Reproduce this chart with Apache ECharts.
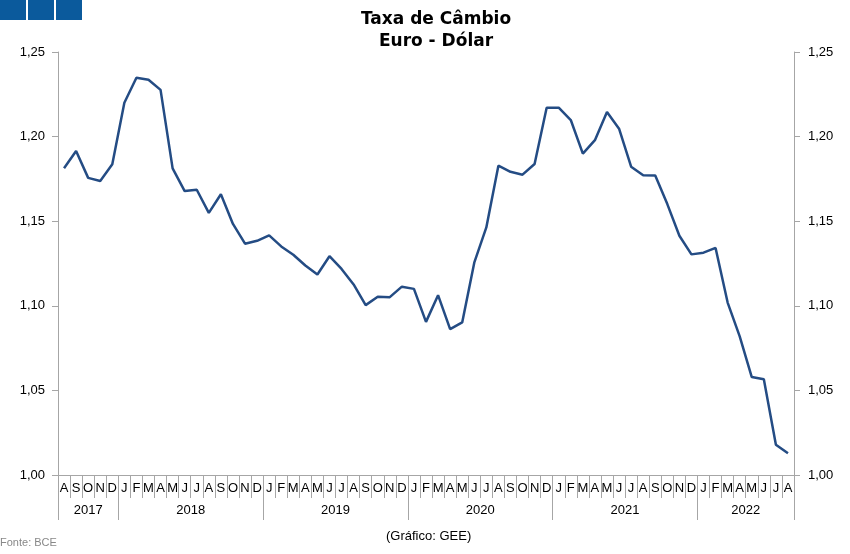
<!DOCTYPE html>
<html><head><meta charset="utf-8">
<script src="https://cdn.jsdelivr.net/npm/echarts@6/dist/echarts.min.js"></script>
<style>html,body{margin:0;padding:0;background:#fff}#c{width:850px;height:554px}</style>
</head><body><div id="c"></div>
<script>
const monthLetters = ['A','S','O','N','D',
 'J','F','M','A','M','J','J','A','S','O','N','D',
 'J','F','M','A','M','J','J','A','S','O','N','D',
 'J','F','M','A','M','J','J','A','S','O','N','D',
 'J','F','M','A','M','J','J','A','S','O','N','D',
 'J','F','M','A','M','J','J','A'];
const years = ['2017','2018','2019','2020','2021','2022'];
const yearStarts = [0,5,17,29,41,53,61];
const eurUsd = [1.1813,1.1915,1.1756,1.1738,1.1836,
 1.2200,1.2348,1.2336,1.2276,1.1812,1.1678,1.1686,1.1549,1.1659,1.1484,1.1367,1.1384,
 1.1416,1.1351,1.1302,1.1238,1.1185,1.1293,1.1218,1.1126,1.1004,1.1053,1.1051,1.1113,
 1.1100,1.0905,1.1063,1.0862,1.0902,1.1255,1.1463,1.1828,1.1792,1.1775,1.1838,1.2170,
 1.2171,1.2098,1.1899,1.1979,1.2146,1.2047,1.1822,1.1772,1.1770,1.1601,1.1414,1.1304,
 1.1314,1.1342,1.1019,1.0819,1.0579,1.0566,1.0179,1.0128];
const yTicks = [1.00,1.05,1.10,1.15,1.20,1.25];

const yearCenters = years.map((y,i)=> (yearStarts[i]+yearStarts[i+1])/2);
const fmt = v => v.toFixed(2).replace('.', ',');
const font = 'Liberation Sans, Arial, sans-serif';
const axisGray = '#a6a6a6';

const chart = echarts.init(document.getElementById('c'), null, {renderer:'canvas'});
chart.setOption({
  animation:false,
  textStyle:{fontFamily:font},
  title:{
    text:'Taxa de Câmbio\nEuro - Dólar', left:'center', top:4,
    textStyle:{fontFamily:'DejaVu Sans, sans-serif', fontSize:17, fontWeight:'bold', color:'#000', lineHeight:22, align:'center'},
    textAlign:'center', left:431
  },
  graphic:[
    {type:'rect', shape:{x:0,y:0,width:26,height:20}, style:{fill:'#0b5a9c'}},
    {type:'rect', shape:{x:28,y:0,width:26,height:20}, style:{fill:'#0b5a9c'}},
    {type:'rect', shape:{x:56,y:0,width:26,height:20}, style:{fill:'#0b5a9c'}},
    {type:'text', left:0, top:537, style:{text:'Fonte: BCE', fill:'#888', font:'11px '+font}},
    {type:'text', left:386, top:530, style:{text:'(Gráfico: GEE)', fill:'#000', font:'13px '+font}}
  ],
  grid:{left:58, right:56, top:52, bottom:79},
  xAxis:[
    {type:'category', data:monthLetters, boundaryGap:true, position:'bottom',
     axisLine:{show:true, lineStyle:{color:axisGray, width:1}},
     axisTick:{show:true, interval:0, length:23, lineStyle:{color:axisGray}},
     axisLabel:{interval:0, color:'#000', fontSize:13, margin:7, fontFamily:font},
     splitLine:{show:false}},
    {type:'value', min:0, max:61, position:'bottom', offset:23,
     axisLine:{show:false},
     axisTick:{show:true, customValues:yearStarts, length:22, lineStyle:{color:axisGray}},
     axisLabel:{customValues:yearCenters, color:'#000', fontSize:13, margin:6, fontFamily:font,
       formatter:(v)=>{const i=yearCenters.indexOf(v); return i>=0?years[i]:'';}},
     splitLine:{show:false}}
  ],
  yAxis:[
    {type:'value', min:1, max:1.25, interval:0.05, position:'left',
     axisLine:{show:true, lineStyle:{color:axisGray}},
     axisTick:{show:true, length:6, lineStyle:{color:axisGray}},
     axisLabel:{color:'#000', fontSize:13, margin:13, formatter:fmt, fontFamily:font},
     splitLine:{show:false}},
    {type:'value', min:1, max:1.25, interval:0.05, position:'right',
     axisLine:{show:true, lineStyle:{color:axisGray}},
     axisTick:{show:true, length:6, lineStyle:{color:axisGray}},
     axisLabel:{color:'#000', fontSize:13, margin:14, formatter:fmt, fontFamily:font},
     splitLine:{show:false}}
  ],
  series:[{
    type:'line', xAxisIndex:0, yAxisIndex:0, data:eurUsd, showSymbol:false,
    lineStyle:{color:'#244c84', width:2.5}, itemStyle:{color:'#244c84'}
  }]
});
</script></body></html>
